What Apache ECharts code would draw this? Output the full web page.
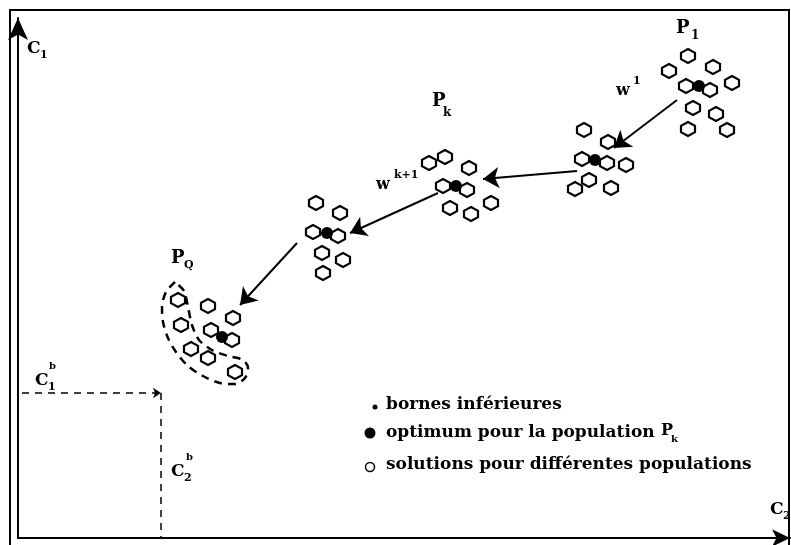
<!DOCTYPE html>
<html>
<head>
<meta charset="utf-8">
<script src="https://cdn.jsdelivr.net/npm/echarts@6/dist/echarts.min.js"></script>
<style>
  html, body { margin: 0; padding: 0; background: #fff; }
  #main { width: 791px; height: 545px; }
</style>
</head>
<body>
<div id="main"></div>
<script>
// coordinates in the (C2, C1) plane, arbitrary units
var openPoints = [
  // population P1
  [670, 482], [651, 467], [695, 471], [668, 452], [692, 448], [714, 455], [675, 430], [698, 424], [670, 409], [709, 408],
  // second population
  [566, 408], [590, 396], [564, 379], [589, 375], [608, 373], [571, 358], [557, 349], [593, 350],
  // population Pk
  [411, 375], [427, 381], [451, 370], [425, 352], [449, 348], [432, 330], [453, 324], [473, 335],
  // next population
  [298, 335], [322, 325], [295, 306], [320, 302], [304, 285], [325, 278], [305, 265],
  // population PQ
  [160, 238], [190, 232], [215, 220], [163, 213], [193, 208], [214, 198], [173, 189], [190, 180], [217, 166]
];
var optimumPoints = [[681, 452], [577, 378], [438, 352], [309, 305], [204, 201]];
var lowerBound = [143, 145];
var moves = [
  [[659, 438], [596, 390]],
  [[559, 367], [465, 359]],
  [[420, 345], [332, 305]],
  [[279, 295], [222, 233]]
];
var frontier = [
  [157, 256], [148, 246], [144, 231], [145, 216], [150, 200], [158, 186], [170, 172], [185, 162],
  [202, 155], [217, 154], [227, 160], [230, 170], [225, 178], [210, 182], [194, 188], [181, 198],
  [174, 213], [170, 231], [166, 247], [157, 256]
];

var hexPath = 'path://M5,0 L10,3 L10,8 L5,11 L0,8 L0,3 Z';
var serif = '"DejaVu Serif", "Liberation Serif", serif';

function txt(x, y, s, size) {
  return {
    type: 'text', x: x, y: y,
    style: { text: s, font: 'bold ' + size + 'px ' + serif, fill: '#000', verticalAlign: 'top' }
  };
}

var chart = echarts.init(document.getElementById('main'));
chart.setOption({
  animation: false,
  grid: { left: 18, right: 1, top: 18, bottom: 7 },
  xAxis: {
    type: 'value', min: 0, max: 772,
    axisLine: { show: true, lineStyle: { color: '#000', width: 2 }, symbol: ['none', 'arrow'], symbolSize: [13, 18] },
    axisTick: { show: false }, axisLabel: { show: false }, splitLine: { show: false }
  },
  yAxis: {
    type: 'value', min: 0, max: 520,
    axisLine: { show: true, lineStyle: { color: '#000', width: 2 }, symbol: ['none', 'arrow'], symbolSize: [15, 22] },
    axisTick: { show: false }, axisLabel: { show: false }, splitLine: { show: false }
  },
  graphic: [
    { type: 'rect', shape: { x: 10, y: 10, width: 779, height: 545 }, style: { fill: 'none', stroke: '#000', lineWidth: 2 } },
    txt(27, 40, 'C', 17), txt(40, 50, '1', 11),
    txt(676, 19, 'P', 18), txt(691, 30, '1', 12),
    txt(432, 92, 'P', 18), txt(443, 107, 'k', 12),
    txt(171, 249, 'P', 18), txt(184, 260, 'Q', 11),
    txt(616, 83, 'w', 16), txt(633, 76, '1', 11),
    txt(376, 177, 'w', 16), txt(394, 170, 'k+1', 11),
    txt(35, 372, 'C', 17), txt(48, 382, '1', 11), txt(49, 361, 'b', 10),
    txt(171, 463, 'C', 17), txt(184, 473, '2', 11), txt(186, 452, 'b', 10),
    txt(770, 501, 'C', 17), txt(783, 511, '2', 11),
    // legend
    { type: 'circle', shape: { cx: 375, cy: 407, r: 2.5 }, style: { fill: '#000' } },
    { type: 'circle', shape: { cx: 370, cy: 433, r: 5.5 }, style: { fill: '#000' } },
    { type: 'circle', shape: { cx: 370, cy: 467, r: 4.5 }, style: { fill: '#fff', stroke: '#000', lineWidth: 1.5 } },
    txt(386, 396, 'bornes inférieures', 17),
    txt(386, 424, 'optimum pour la population', 17),
    txt(661, 423, 'P', 16), txt(671, 434, 'k', 10),
    txt(386, 456, 'solutions pour différentes populations', 17)
  ],
  series: [
    {
      type: 'line', data: frontier, smooth: 0.3, symbol: 'none', silent: true,
      lineStyle: { color: '#000', width: 2.5, type: [8, 6] }, z: 1
    },
    {
      type: 'lines', coordinateSystem: 'cartesian2d', silent: true,
      symbol: ['none', 'arrow'], symbolSize: 8,
      lineStyle: { color: '#000', width: 1.5, type: [7, 6], opacity: 1 },
      data: [{ coords: [[4, lowerBound[1]], lowerBound] }]
    },
    {
      type: 'lines', coordinateSystem: 'cartesian2d', silent: true,
      symbol: 'none',
      lineStyle: { color: '#000', width: 1.5, type: [7, 6], opacity: 1 },
      data: [{ coords: [lowerBound, [lowerBound[0], 0]] }]
    },
    {
      type: 'lines', coordinateSystem: 'cartesian2d', silent: true,
      symbol: ['none', 'arrow'], symbolSize: 16,
      lineStyle: { color: '#000', width: 2, opacity: 1 },
      data: moves.map(function (m) { return { coords: m }; })
    },
    {
      type: 'scatter', data: openPoints, symbol: hexPath, symbolSize: [14, 14], silent: true,
      itemStyle: { color: '#fff', borderColor: '#000', borderWidth: 2.2, opacity: 1 }, z: 3
    },
    {
      type: 'scatter', data: optimumPoints, symbol: 'circle', symbolSize: 12, silent: true,
      itemStyle: { color: '#000', opacity: 1 }, z: 4
    }
  ]
});
</script>
</body>
</html>
